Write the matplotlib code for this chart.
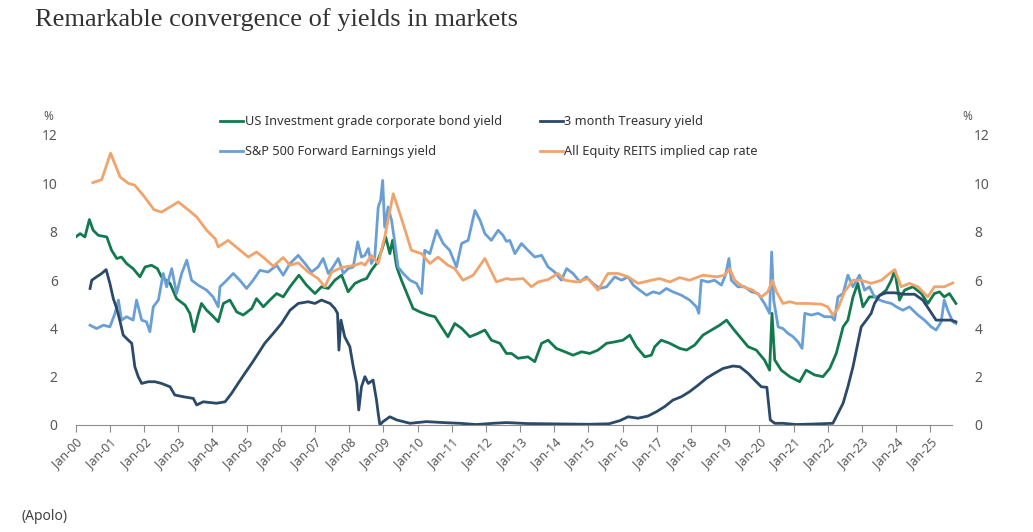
import matplotlib
matplotlib.use("Agg")
import matplotlib.pyplot as plt

# Datos (anio decimal, %)
ig_x = [2000.0, 2000.13, 2000.27, 2000.40, 2000.51, 2000.66, 2000.91, 2001.05, 2001.2, 2001.34,
        2001.49, 2001.68, 2001.88, 2002.03, 2002.22, 2002.39, 2002.51, 2002.76, 2002.95, 2003.2,
        2003.34, 2003.46, 2003.58, 2003.68, 2003.83, 2003.98, 2004.17, 2004.32, 2004.51, 2004.71,
        2004.90, 2005.15, 2005.29, 2005.49, 2005.68, 2005.88, 2006.07, 2006.27, 2006.53, 2006.75,
        2007.0, 2007.19, 2007.39, 2007.58, 2007.78, 2007.97, 2008.17, 2008.36, 2008.51, 2008.65,
        2008.80, 2008.95, 2009.07, 2009.19, 2009.27, 2009.39, 2009.53, 2009.73, 2009.87, 2010.07,
        2010.31, 2010.51, 2010.70, 2010.89, 2011.09, 2011.29, 2011.53, 2011.77, 2011.97, 2012.16,
        2012.41, 2012.60, 2012.75, 2012.94, 2013.23, 2013.43, 2013.63, 2013.82, 2014.06, 2014.31,
        2014.55, 2014.80, 2015.04, 2015.28, 2015.53, 2015.77, 2016.01, 2016.21, 2016.40, 2016.65,
        2016.84, 2016.94, 2017.13, 2017.38, 2017.67, 2017.87, 2018.11, 2018.35, 2018.60, 2018.84,
        2019.04, 2019.23, 2019.47, 2019.67, 2019.91, 2020.15, 2020.30, 2020.37, 2020.45, 2020.64,
        2020.89, 2021.08, 2021.18, 2021.37, 2021.62, 2021.86, 2022.06, 2022.25, 2022.45, 2022.59,
        2022.74, 2022.88, 2023.03, 2023.22, 2023.47, 2023.71, 2023.86, 2023.96, 2024.10, 2024.25,
        2024.49, 2024.74, 2024.93, 2025.12, 2025.27, 2025.41, 2025.56, 2025.75]
ig_y = [7.78, 7.92, 7.78, 8.5, 8.06, 7.85, 7.78, 7.23, 6.89, 6.95,
        6.68, 6.47, 6.13, 6.54, 6.61, 6.47, 6.13, 5.86, 5.23, 4.96,
        4.62, 3.86, 4.55, 5.03, 4.75, 4.55, 4.27, 5.03, 5.17, 4.68,
        4.55, 4.82, 5.23, 4.89, 5.17, 5.44, 5.30, 5.72, 6.20, 5.79,
        5.44, 5.72, 5.65, 5.99, 6.20, 5.51, 5.86, 5.99, 6.06, 6.40,
        6.68, 7.23, 7.78, 7.09, 7.64, 6.54, 5.99, 5.30, 4.82, 4.68,
        4.55, 4.48, 4.06, 3.65, 4.20, 4.0, 3.65, 3.79, 3.93, 3.51,
        3.38, 2.96, 2.96, 2.76, 2.82, 2.62, 3.38, 3.51, 3.17, 3.03,
        2.89, 3.03, 2.96, 3.10, 3.38, 3.44, 3.51, 3.72, 3.24, 2.82,
        2.89, 3.24, 3.51, 3.38, 3.17, 3.10, 3.31, 3.72, 3.93, 4.13,
        4.34, 3.99, 3.58, 3.24, 3.10, 2.69, 2.27, 4.62, 2.69, 2.27,
        2.0, 1.86, 1.79, 2.27, 2.07, 2.0, 2.34, 2.96, 4.06, 4.34,
        5.30, 5.86, 4.89, 5.30, 5.30, 5.58, 5.99, 6.40, 5.17, 5.58,
        5.72, 5.44, 5.03, 5.44, 5.51, 5.30, 5.44, 5.03]

tb_x = [2000.42, 2000.47, 2000.61, 2000.76, 2000.89, 2001.0, 2001.10, 2001.20, 2001.30, 2001.39,
        2001.54, 2001.64, 2001.73, 2001.83, 2001.93, 2002.12, 2002.32, 2002.51, 2002.76, 2002.90,
        2003.15, 2003.44, 2003.54, 2003.73, 2004.12, 2004.37, 2004.56, 2004.75, 2004.95, 2005.15,
        2005.34, 2005.53, 2005.78, 2006.02, 2006.27, 2006.51, 2006.80, 2007.0, 2007.19, 2007.44,
        2007.58, 2007.66, 2007.70, 2007.76, 2007.87, 2008.02, 2008.12, 2008.22, 2008.28, 2008.36,
        2008.46, 2008.56, 2008.70, 2008.80, 2008.85, 2008.90, 2008.99, 2009.19, 2009.39, 2009.78,
        2010.26, 2010.75, 2011.24, 2011.72, 2012.21, 2012.60, 2013.2, 2013.8, 2014.4, 2015.0,
        2015.6, 2015.92, 2016.16, 2016.45, 2016.74, 2016.99, 2017.23, 2017.47, 2017.72, 2017.96,
        2018.21, 2018.45, 2018.69, 2018.94, 2019.23, 2019.43, 2019.67, 2019.86, 2020.06, 2020.22,
        2020.32, 2020.45, 2020.69, 2021.08, 2021.6, 2022.15, 2022.30, 2022.45, 2022.59, 2022.74,
        2022.88, 2022.98, 2023.13, 2023.27, 2023.37, 2023.52, 2023.71, 2023.96, 2024.25, 2024.54,
        2024.78, 2024.98, 2025.17, 2025.41, 2025.61, 2025.75]
tb_y = [5.65, 5.99, 6.13, 6.27, 6.43, 5.86, 5.23, 4.82, 4.27, 3.72,
        3.51, 3.38, 2.41, 2.0, 1.72, 1.79, 1.79, 1.72, 1.58, 1.24,
        1.17, 1.10, 0.83, 0.96, 0.90, 0.96, 1.31, 1.72, 2.14, 2.55,
        2.96, 3.38, 3.79, 4.20, 4.75, 5.03, 5.10, 5.03, 5.17, 5.03,
        4.82, 4.62, 3.10, 4.34, 3.65, 3.24, 2.41, 1.72, 0.62, 1.58,
        2.0, 1.72, 1.86, 1.03, 0.48, 0.0, 0.14, 0.34, 0.21, 0.07,
        0.14, 0.10, 0.07, 0.02, 0.07, 0.10, 0.06, 0.05, 0.04, 0.03,
        0.05, 0.18, 0.34, 0.28, 0.37, 0.55, 0.76, 1.03, 1.17, 1.38,
        1.65, 1.93, 2.14, 2.34, 2.44, 2.41, 2.14, 1.86, 1.58, 1.56,
        0.21, 0.07, 0.07, 0.02, 0.04, 0.07, 0.48, 0.90, 1.58, 2.41,
        3.38, 4.06, 4.34, 4.62, 5.03, 5.37, 5.47, 5.47, 5.41, 5.41,
        5.17, 4.75, 4.34, 4.34, 4.34, 4.27]

sp_x = [2000.42, 2000.61, 2000.81, 2001.0, 2001.15, 2001.25, 2001.34, 2001.49, 2001.68, 2001.78,
        2001.93, 2002.07, 2002.17, 2002.27, 2002.42, 2002.56, 2002.66, 2002.81, 2002.95, 2003.10,
        2003.25, 2003.39, 2003.58, 2003.83, 2004.02, 2004.17, 2004.22, 2004.37, 2004.61, 2004.80,
        2005.0, 2005.19, 2005.39, 2005.63, 2005.88, 2006.07, 2006.27, 2006.51, 2006.71, 2006.90,
        2007.09, 2007.24, 2007.39, 2007.53, 2007.68, 2007.83, 2007.97, 2008.12, 2008.25, 2008.36,
        2008.46, 2008.56, 2008.65, 2008.75, 2008.85, 2008.92, 2008.98, 2009.04, 2009.14, 2009.24,
        2009.34, 2009.43, 2009.58, 2009.78, 2009.97, 2010.12, 2010.21, 2010.36, 2010.56, 2010.75,
        2010.94, 2011.14, 2011.29, 2011.48, 2011.68, 2011.83, 2011.97, 2012.16, 2012.36, 2012.50,
        2012.60, 2012.70, 2012.85, 2013.04, 2013.23, 2013.43, 2013.63, 2013.82, 2014.01, 2014.21,
        2014.36, 2014.55, 2014.75, 2014.94, 2015.13, 2015.33, 2015.53, 2015.77, 2015.97, 2016.16,
        2016.31, 2016.50, 2016.70, 2016.89, 2017.08, 2017.28, 2017.47, 2017.72, 2017.96, 2018.16,
        2018.23, 2018.30, 2018.50, 2018.69, 2018.89, 2019.01, 2019.11, 2019.18, 2019.37, 2019.57,
        2019.77, 2019.96, 2020.15, 2020.30, 2020.36, 2020.42, 2020.55, 2020.69, 2020.84, 2020.99,
        2021.13, 2021.25, 2021.33, 2021.52, 2021.72, 2021.91, 2022.11, 2022.20, 2022.30, 2022.45,
        2022.59, 2022.74, 2022.93, 2023.08, 2023.22, 2023.37, 2023.52, 2023.66, 2023.86, 2024.01,
        2024.20, 2024.39, 2024.64, 2024.83, 2025.03, 2025.17, 2025.32, 2025.41, 2025.51, 2025.66,
        2025.75]
sp_y = [4.13, 3.99, 4.13, 4.06, 4.62, 5.17, 4.34, 4.48, 4.34, 5.17,
        4.34, 4.27, 3.86, 4.89, 5.17, 6.27, 5.72, 6.47, 5.44, 6.27,
        6.82, 5.99, 5.79, 5.58, 5.30, 4.89, 5.72, 5.92, 6.27, 5.99,
        5.65, 5.99, 6.40, 6.33, 6.61, 6.20, 6.68, 7.02, 6.68, 6.33,
        6.54, 6.89, 6.27, 6.54, 6.89, 6.27, 6.47, 6.54, 7.58, 6.95,
        7.02, 7.30, 6.68, 6.95, 9.02, 9.30, 10.12, 8.19, 9.02, 8.47,
        7.51, 6.54, 6.27, 5.99, 5.86, 5.44, 7.23, 7.09, 8.06, 7.51,
        7.23, 6.54, 7.51, 7.64, 8.88, 8.47, 7.92, 7.64, 8.06, 7.85,
        7.60, 7.64, 7.09, 7.51, 7.23, 6.95, 7.02, 6.54, 6.33, 5.99,
        6.47, 6.27, 5.92, 6.13, 5.86, 5.65, 5.72, 6.13, 5.99, 6.13,
        5.79, 5.58, 5.37, 5.51, 5.44, 5.65, 5.51, 5.37, 5.17, 4.89,
        4.62, 5.99, 5.92, 5.99, 5.79, 6.20, 6.89, 5.99, 5.72, 5.72,
        5.51, 5.44, 5.03, 4.62, 7.16, 5.17, 4.06, 3.99, 3.79, 3.65,
        3.44, 3.17, 4.62, 4.55, 4.62, 4.48, 4.48, 4.34, 5.30, 5.44,
        6.20, 5.72, 6.20, 5.58, 5.72, 5.30, 5.17, 5.10, 5.03, 4.89,
        4.75, 4.89, 4.55, 4.34, 4.06, 3.93, 4.27, 5.17, 4.75, 4.27,
        4.20]

reit_x = [2000.5, 2000.76, 2001.02, 2001.3, 2001.54, 2001.73, 2001.98, 2002.29, 2002.51, 2002.76,
          2003.0, 2003.25, 2003.54, 2003.83, 2004.08, 2004.17, 2004.46, 2004.75, 2005.05, 2005.29,
          2005.53, 2005.78, 2006.07, 2006.27, 2006.51, 2006.80, 2007.09, 2007.29, 2007.49, 2007.78,
          2008.17, 2008.36, 2008.46, 2008.65, 2008.85, 2009.04, 2009.29, 2009.53, 2009.82, 2010.12,
          2010.36, 2010.60, 2010.89, 2011.09, 2011.33, 2011.63, 2011.97, 2012.31, 2012.60, 2012.75,
          2013.09, 2013.33, 2013.53, 2013.82, 2014.11, 2014.31, 2014.65, 2014.99, 2015.28, 2015.57,
          2015.87, 2016.16, 2016.45, 2016.84, 2017.08, 2017.38, 2017.67, 2017.96, 2018.35, 2018.74,
          2018.99, 2019.13, 2019.28, 2019.52, 2019.81, 2020.06, 2020.25, 2020.38, 2020.50, 2020.69,
          2020.89, 2021.08, 2021.42, 2021.81, 2022.0, 2022.15, 2022.30, 2022.49, 2022.74, 2022.98,
          2023.27, 2023.57, 2023.81, 2023.96, 2024.15, 2024.39, 2024.64, 2024.93, 2025.12, 2025.41,
          2025.66]
reit_y = [10.03, 10.15, 11.25, 10.26, 10.0, 9.92, 9.5, 8.91, 8.81, 9.02,
          9.23, 8.95, 8.61, 8.06, 7.71, 7.37, 7.64, 7.30, 6.95, 7.16,
          6.89, 6.57, 6.93, 6.61, 6.71, 6.33, 6.06, 5.72, 6.33, 6.52,
          6.61, 6.71, 6.61, 7.02, 6.68, 7.78, 9.57, 8.54, 7.23, 7.09,
          6.68, 6.95, 6.61, 6.47, 5.99, 6.20, 6.89, 5.92, 6.06, 6.02,
          6.06, 5.72, 5.92, 6.02, 6.27, 5.99, 5.92, 6.06, 5.58, 6.27,
          6.27, 6.13, 5.86, 5.99, 6.06, 5.92, 6.10, 5.99, 6.20, 6.13,
          6.20, 6.47, 5.99, 5.72, 5.58, 5.30, 5.51, 5.99, 5.51, 5.03,
          5.10, 5.03, 5.03, 5.0, 4.89, 4.55, 4.82, 5.51, 5.99, 5.99,
          5.86, 5.99, 6.27, 6.43, 5.72, 5.86, 5.72, 5.30, 5.72, 5.72,
          5.88]

years = list(range(2000, 2026))
tick_labels = ["Jan-%02d" % (y % 100) for y in years]
yticks = [0, 2, 4, 6, 8, 10, 12]

labels = ["US Investment grade corporate bond yield", "S&P 500 Forward Earnings yield",
          "3 month Treasury yield", "All Equity REITS implied cap rate"]
colors = ["#137a50", "#6a9fd5", "#2b4968", "#f0a46c"]

plt.rcParams['font.family'] = ['Noto Sans', 'DejaVu Sans']

fig = plt.figure(figsize=(10.33, 5.32), dpi=100)
ax = fig.add_axes([75.7 / 1033, 107 / 532, (957.6 - 75.7) / 1033, 290 / 532])

l1, = ax.plot(ig_x, ig_y, color=colors[0], lw=2.0)
l2, = ax.plot(sp_x, sp_y, color=colors[1], lw=2.0)
l3, = ax.plot(tb_x, tb_y, color=colors[2], lw=2.0)
l4, = ax.plot(reit_x, reit_y, color=colors[3], lw=2.0)
# naranja por encima como en el original
l4.set_zorder(4)

ax.set_xlim(2000, 2025.8)
ax.set_ylim(0, 12)
for s in ["top", "right", "left"]:
    ax.spines[s].set_visible(False)
ax.spines["bottom"].set_color("#8c8c8c")
ax.spines["bottom"].set_bounds(2000, 2025.65)

ax.set_xticks(years)
ax.set_xticklabels(tick_labels, rotation=45, ha="right", rotation_mode="anchor")
ax.tick_params(axis="x", direction="out", length=5, color="#8c8c8c", labelsize=9,
               labelcolor="#595959", pad=3)
ax.set_yticks(yticks)
ax.tick_params(axis="y", length=0, labelsize=10, labelcolor="#595959", pad=13)

ax2 = ax.twinx()
ax2.set_ylim(0, 12)
ax2.set_yticks(yticks)
for s in ax2.spines.values():
    s.set_visible(False)
ax2.tick_params(axis="y", length=0, labelsize=10, labelcolor="#595959", pad=12)

fig.text(48 / 1033, 1 - 117 / 532, "%", fontsize=8.5, color="#595959", ha="center", va="center")
fig.text(967 / 1033, 1 - 117 / 532, "%", fontsize=8.5, color="#595959", ha="center", va="center")

fig.legend([l1, l2, l3, l4], labels, ncol=2, frameon=False, loc="upper left",
           bbox_to_anchor=(214 / 1033, 1 - 109 / 532), fontsize=9.2, handlelength=1.8,
           handletextpad=0.1, labelspacing=1.3, columnspacing=3.0, borderpad=0,
           labelcolor="#333333")

fig.text(35 / 1033, 1 - 20 / 532, "Remarkable convergence of yields in markets",
         family="Liberation Serif", fontsize=19, color="#333333", va="center", ha="left")
fig.text(22 / 1033, 1 - 516 / 532, "(Apolo)", fontsize=10, color="#444444", va="center")

fig.savefig("out.png", dpi=100)
